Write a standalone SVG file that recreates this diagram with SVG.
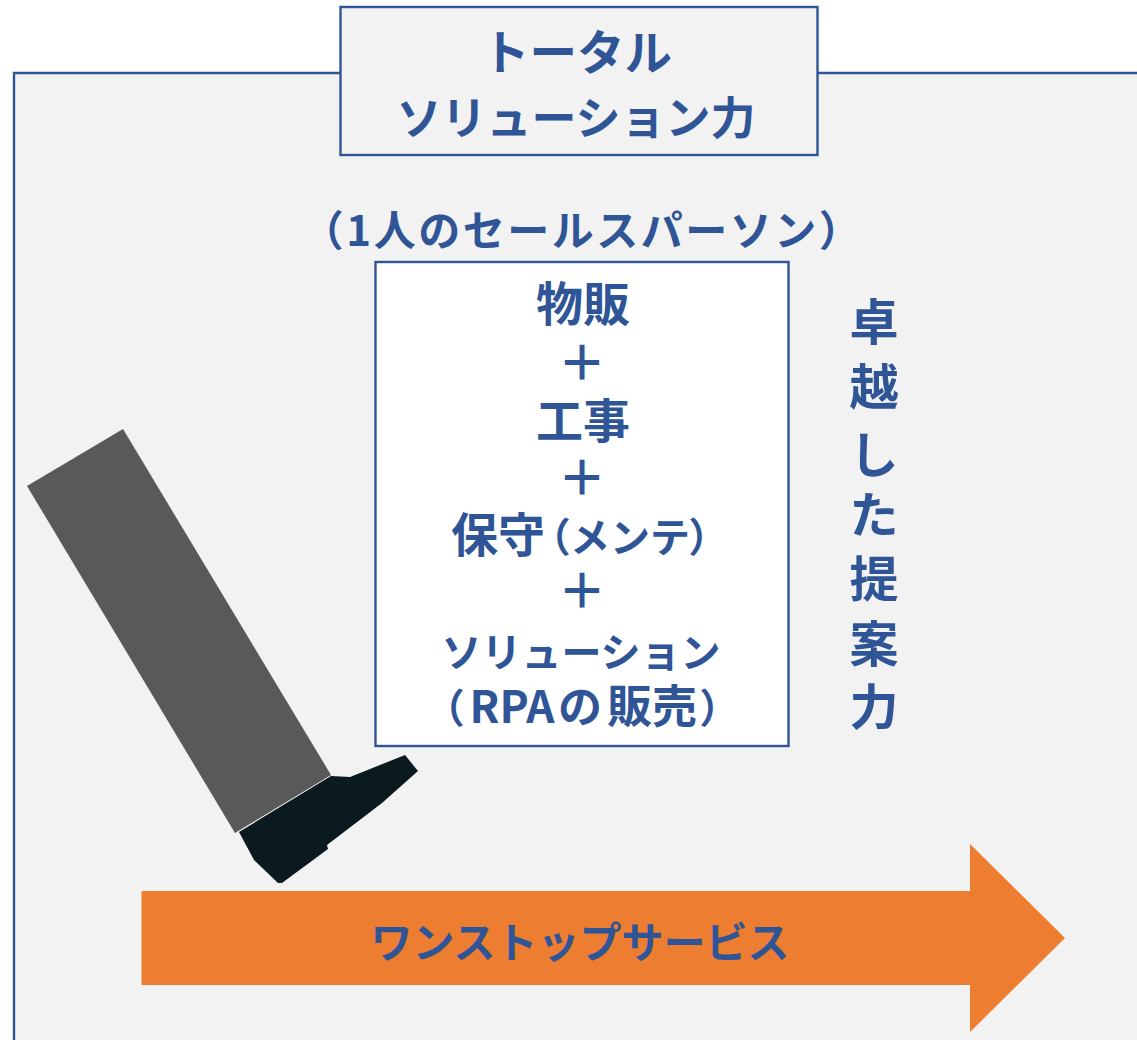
<svg xmlns="http://www.w3.org/2000/svg" width="1137" height="1040" viewBox="0 0 1137 1040">
<style>
text{font-family:"Noto Sans CJK JP","Noto Sans",sans-serif;font-weight:700;fill:#2f5597;text-anchor:middle}
.box{stroke:#2f5597;stroke-width:2.400}
.t1{font-size:45px}
.t2{font-size:40px}
.k{font-size:47px}
.p{font-size:48px}
.v{font-size:49px}
.palt{font-feature-settings:"palt"}
</style>
<rect width="1137" height="1040" fill="#fff"/>
<g id="frame"><path d="M1137 73H14V1040H1137Z" fill="#f2f2f2"/><path d="M1137 73H14V1040" fill="none" class="box"/></g>
<g id="title"><rect class="box" x="340.500" y="7" width="477" height="148" fill="#f2f2f2"/>
<text style="font-size:47.500px" x="577" y="70">トータル</text><text class="t1" x="576" y="135">ソリューション力</text></g>
<g id="subtitle"><text x="582.500" y="246" style="font-size:42px;letter-spacing:2.500px">（1人のセールスパーソン）</text></g>
<g id="content"><rect class="box" x="375.500" y="262" width="413" height="484" fill="#fff"/>
<text class="k" x="583" y="321">物販</text>
<text class="p" x="582" y="380">＋</text>
<text class="k" x="583" y="438">工事</text>
<text class="p" x="582" y="495">＋</text>
<text class="t2" y="552"><tspan class="k" x="498">保守</tspan><tspan class="palt" x="559">（</tspan><tspan x="630">メンテ</tspan><tspan class="palt" x="700">）</tspan></text>
<text class="p" x="582" y="608">＋</text>
<text class="t2" x="581" y="667">ソリューション</text>
<text class="t2" y="723"><tspan class="palt" x="453">（</tspan><tspan x="512" style="font-size:44px">RPA</tspan><tspan x="580" style="font-size:44px">の</tspan><tspan x="652" style="font-size:45px">販売</tspan><tspan class="palt" x="711">）</tspan></text></g>
<g id="vertical"><text class="v" x="874" y="340">卓</text><text class="v" x="874" y="405">越</text><text class="v" x="874" y="473">し</text><text class="v" x="874" y="533">た</text><text class="v" x="874" y="597">提</text><text class="v" x="874" y="662">案</text><text class="v" x="874" y="725">力</text></g>
<g id="leg"><polygon points="27,486 123,429 331,775 235,833" fill="#595959"/>
<polygon points="239,832 331,776 350,777 405,755 418,771 382,803 327,845 328,849 282,883 278,883 254,860" fill="#0a1a1f"/></g>
<g id="arrow"><polygon points="141.500,891 970,891 970,844 1065,938 970,1032 970,985 141.500,985" fill="#ed7d31"/>
<text style="font-size:42px" x="580" y="958">ワンストップサービス</text></g>
</svg>
